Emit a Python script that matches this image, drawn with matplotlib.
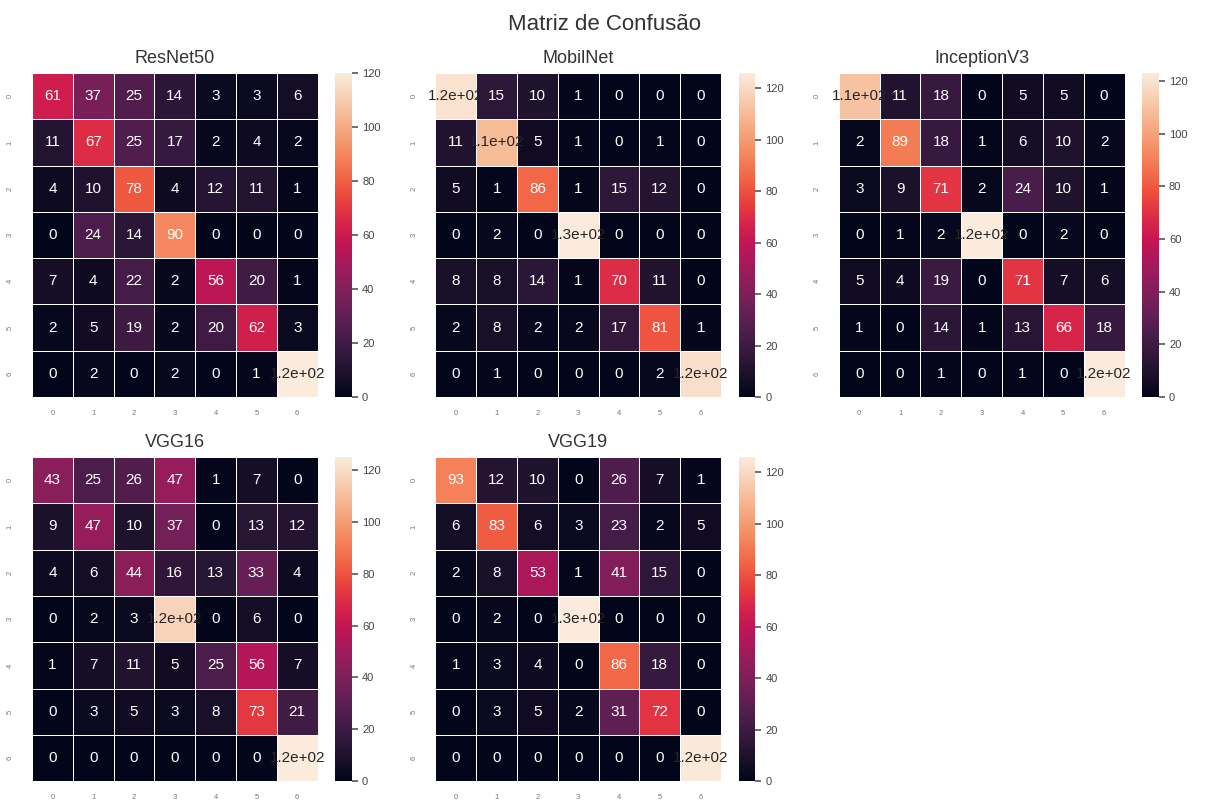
import numpy as np
import matplotlib
matplotlib.use("Agg")
import matplotlib.pyplot as plt
import seaborn as sns

plt.rcParams['font.family'] = ['Liberation Sans', 'DejaVu Sans']

# matrizes de confusao (linhas = real, colunas = previsto)
cm_resnet50 = [
    [61, 37, 25, 14, 3, 3, 6],
    [11, 67, 25, 17, 2, 4, 2],
    [4, 10, 78, 4, 12, 11, 1],
    [0, 24, 14, 90, 0, 0, 0],
    [7, 4, 22, 2, 56, 20, 1],
    [2, 5, 19, 2, 20, 62, 3],
    [0, 2, 0, 2, 0, 1, 120],
]
cm_mobilnet = [
    [123, 15, 10, 1, 0, 0, 0],
    [11, 110, 5, 1, 0, 1, 0],
    [5, 1, 86, 1, 15, 12, 0],
    [0, 2, 0, 126, 0, 0, 0],
    [8, 8, 14, 1, 70, 11, 0],
    [2, 8, 2, 2, 17, 81, 1],
    [0, 1, 0, 0, 0, 2, 122],
]
cm_inceptionv3 = [
    [110, 11, 18, 0, 5, 5, 0],
    [2, 89, 18, 1, 6, 10, 2],
    [3, 9, 71, 2, 24, 10, 1],
    [0, 1, 2, 123, 0, 2, 0],
    [5, 4, 19, 0, 71, 7, 6],
    [1, 0, 14, 1, 13, 66, 18],
    [0, 0, 1, 0, 1, 0, 123],
]
cm_vgg16 = [
    [43, 25, 26, 47, 1, 7, 0],
    [9, 47, 10, 37, 0, 13, 12],
    [4, 6, 44, 16, 13, 33, 4],
    [0, 2, 3, 117, 0, 6, 0],
    [1, 7, 11, 5, 25, 56, 7],
    [0, 3, 5, 3, 8, 73, 21],
    [0, 0, 0, 0, 0, 0, 125],
]
cm_vgg19 = [
    [93, 12, 10, 0, 26, 7, 1],
    [6, 83, 6, 3, 23, 2, 5],
    [2, 8, 53, 1, 41, 15, 0],
    [0, 2, 0, 126, 0, 0, 0],
    [1, 3, 4, 0, 86, 18, 0],
    [0, 3, 5, 2, 31, 72, 0],
    [0, 0, 0, 0, 0, 0, 125],
]

model_names = ["ResNet50", "MobilNet", "InceptionV3", "VGG16", "VGG19"]
matrices = [cm_resnet50, cm_mobilnet, cm_inceptionv3, cm_vgg16, cm_vgg19]

fig, axes = plt.subplots(2, 3, figsize=(12.08, 8.02), dpi=100)
fig.subplots_adjust(left=0.0265, right=0.99, top=0.909, bottom=0.026,
                    wspace=0.13, hspace=0.185)
fig.suptitle("Matriz de Confusão", fontsize=16, color="#333333", y=0.983)

for ax, name, cm in zip(axes.flat, model_names, matrices):
    sns.heatmap(np.array(cm), annot=True, ax=ax, cmap="rocket",
                linewidths=0.6, linecolor="white",
                annot_kws={"fontsize": 11})
    ax.set_title(name, fontsize=13, color="#333333", pad=7)
    ax.tick_params(axis="both", length=0, labelsize=5.5, labelcolor="#777777")
    ax.tick_params(axis="x", pad=9)
    ax.tick_params(axis="y", pad=13)
    cbar = ax.collections[0].colorbar
    cbar.ax.tick_params(labelsize=8, labelcolor="#444444", color="#555555",
                        length=4, width=1.2)
    cbar.outline.set_linewidth(0)

axes.flat[5].axis("off")

plt.savefig("out.png", dpi=100)
